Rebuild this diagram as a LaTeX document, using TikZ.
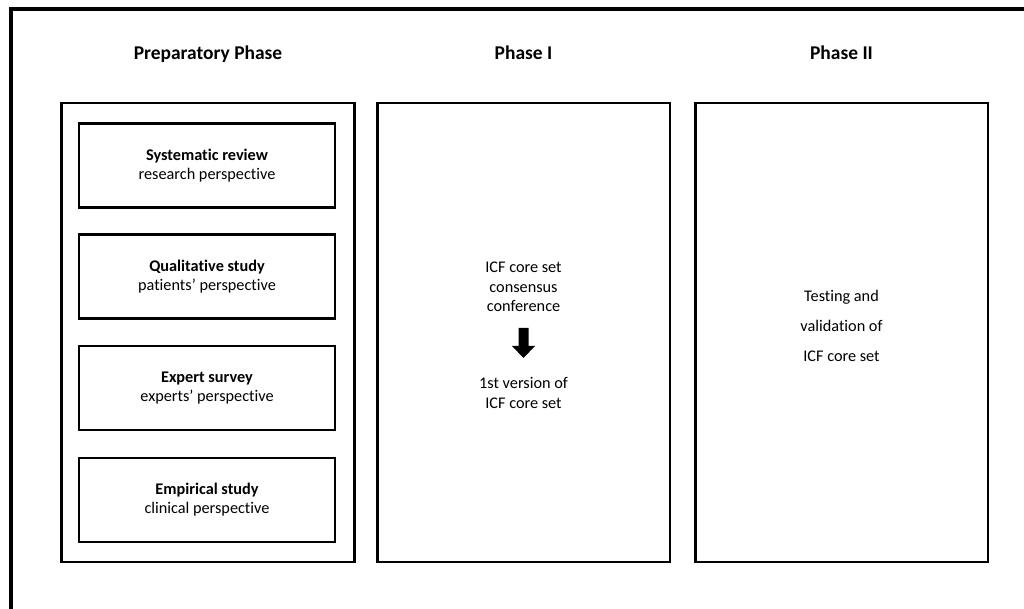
\documentclass[tikz,border=0pt]{standalone}
\usepackage{fontspec}
\setmainfont[Ligatures=NoCommon]{Carlito}
\usetikzlibrary{calc}
\begin{document}
\begin{tikzpicture}[x=0.75pt,y=-0.75pt,
  box/.style={draw=black,line width=2pt,inner sep=0pt,fill=none},
  bigbox/.style={box,minimum width=219.5pt,minimum height=344.25pt},
  studybox/.style={box,minimum width=192pt,minimum height=63pt,align=center,font=\fontsize{12.2}{14.3}\selectfont},
  phasetitle/.style={font=\fontsize{14.6}{16}\selectfont\bfseries,inner sep=0pt},
  bodytext/.style={align=center,inner sep=0pt,font=\fontsize{12.2}{14.6}\selectfont},
  widetext/.style={align=center,inner sep=0pt,font=\fontsize{12.2}{22.5}\selectfont}]
\useasboundingbox (0,0) rectangle (1024,609);
\clip (0,0) rectangle (1024,609);
% outer frame (extends beyond the picture on the right and bottom)
\draw[line width=2.4pt] (11,9) rectangle (1040,630);
% titles
\node[phasetitle] (tprep) at (208,54) {Preparatory Phase};
\node[phasetitle] (tone) at (523.5,53) {Phase I};
\node[phasetitle] (ttwo) at (841.5,53) {Phase II};
% big boxes
\node[bigbox] (prep) at (208,332.5) {};
\node[bigbox] (one) at (523.5,332.5) {};
\node[bigbox] (two) at (841.5,332.5) {};
% preparatory studies
\node[studybox] (s1) at (207,165.5) {\textbf{Systematic review}\\research perspective};
\node[studybox] (s2) at (207,276.5) {\textbf{Qualitative study}\\patients’ perspective};
\node[studybox] (s3) at (207,388) {\textbf{Expert survey}\\experts’ perspective};
\node[studybox] (s4) at (207,500) {\textbf{Empirical study}\\clinical perspective};
% phase I content
\node[bodytext] (conf) at (523.5,287) {ICF core set\\consensus\\conference};
\node[bodytext] (ver) at (523.5,393) {1st version of\\ICF core set};
\coordinate (atop) at (523.5,328);
\fill[black] ($(atop)+(-5,0)$) -- ($(atop)+(5,0)$) -- ($(atop)+(5,18)$) -- ($(atop)+(11.5,18)$)
  -- ($(atop)+(0,30)$) -- ($(atop)+(-11.5,18)$) -- ($(atop)+(-5,18)$) -- cycle;
% phase II content
\node[widetext] (test) at (841.5,326) {Testing and\\validation of\\ICF core set};
\end{tikzpicture}
\end{document}
